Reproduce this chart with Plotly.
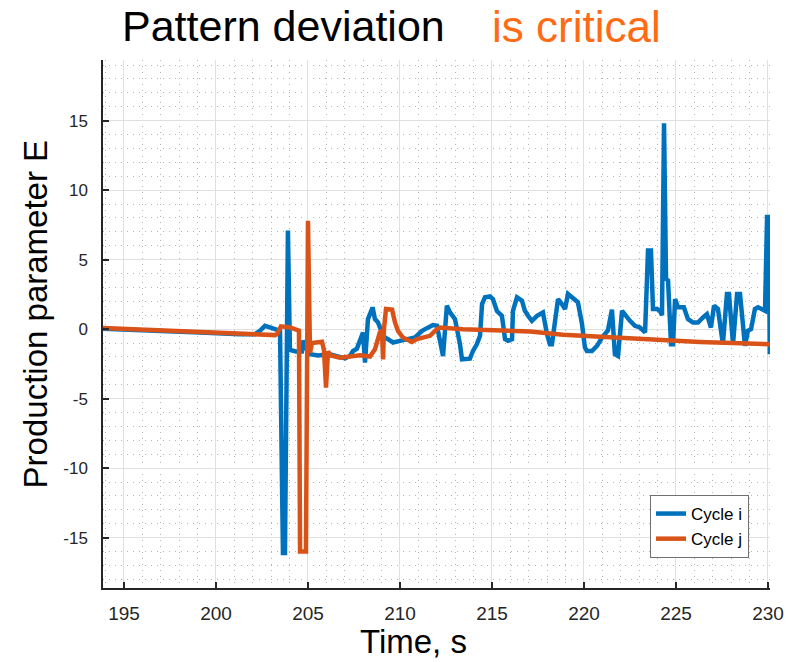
import plotly.graph_objects as go

# ---- data ----
cycle_i_t = [193.86, 196.41, 199.13, 201.30, 202.12, 202.39, 202.66, 202.93, 203.32, 203.48,
             203.64, 203.75, 203.91, 204.02, 204.35, 204.67, 204.76, 204.89, 205.11, 205.54,
             206.20, 206.74, 207.01, 207.28, 207.45, 207.66, 207.83, 207.99, 208.10, 208.21,
             208.26, 208.48, 208.53, 208.64, 208.80, 209.02, 209.18, 209.35, 209.62, 210.00,
             210.43, 210.82, 211.20, 211.52, 211.79, 212.01, 212.17, 212.34, 212.55, 212.72,
             212.99, 213.10, 213.26, 213.37, 213.53, 213.80, 213.97, 214.18, 214.35, 214.46,
             214.62, 214.89, 215.05, 215.27, 215.54, 215.60, 215.71, 215.87, 216.09, 216.14,
             216.36, 216.63, 216.79, 216.96, 217.17, 217.45, 217.77, 217.99, 218.15, 218.26,
             218.42, 218.59, 218.80, 218.97, 219.13, 219.40, 219.67, 219.89, 220.05, 220.16,
             220.43, 220.71, 220.98, 221.30, 221.52, 221.68, 221.85, 222.07, 222.34, 222.50,
             222.77, 223.04, 223.32, 223.48, 223.64, 223.75, 223.97, 224.13, 224.24, 224.35,
             224.46, 224.57, 224.73, 224.84, 224.95, 225.11, 225.43, 225.65, 225.92, 226.20,
             226.47, 226.68, 226.90, 227.07, 227.28, 227.55, 227.77, 227.88, 228.10, 228.32,
             228.48, 228.59, 228.75, 228.91, 229.08, 229.29, 229.46, 229.84, 229.95, 230.05,
             230.10]
cycle_i_v = [0.02, -0.08, -0.24, -0.36, -0.36, -0.12, 0.24, 0.12, 0.0, -0.12,
             -16.1, -16.1, 7.1, -1.5, -1.6, -1.6, -0.8, -1.4, -1.8, -1.9,
             -1.8, -1.97, -2.1, -1.93, -1.57, -1.4, -0.84, -0.24, -2.4, 0.0,
             0.72, 1.45, 1.45, 0.72, 0.5, -0.24, -0.6, -0.72, -0.96, -0.84,
             -0.72, -0.6, -0.12, 0.12, 0.29, 0.24, -0.96, -1.93, 1.69, 1.2,
             0.72, 0.0, -1.08, -2.17, -2.17, -2.12, -1.57, -1.08, -0.48, 1.8,
             2.29, 2.35, 2.17, 1.3, 0.96, 0.48, -0.72, -0.84, -0.72, 1.32,
             2.29, 2.05, 1.32, 0.96, 0.6, 0.96, 1.2, -0.36, -1.08, -1.08,
             0.48, 2.17, 1.8, 1.45, 2.53, 2.2, 1.93, 0.4, -1.3, -1.57,
             -1.57, -1.2, -0.6, -0.1, 1.4, -1.8, -1.93, 1.32, 0.84, 0.6,
             0.24, 0.12, -0.24, 5.66, 5.66, 1.45, 1.45, 1.32, 1.0, 14.8,
             3.61, 3.49, -1.08, -1.08, 2.17, 1.57, 1.57, 0.72, 0.48, 0.48,
             0.84, 1.08, 0.12, 1.69, 1.45, -1.08, 2.53, 2.53, -1.08, 2.53,
             2.53, 0.84, -1.2, -0.12, 0.0, 1.45, 1.57, 1.32, 8.07, 8.07,
             -1.8]

cycle_j_t = [193.86, 197.34, 200.05, 203.21, 203.32, 203.53, 204.02, 204.40, 204.51, 204.57,
             204.89, 205.00, 205.11, 205.22, 205.54, 205.76, 205.87, 205.98, 206.09, 206.20,
             206.74, 207.83, 208.37, 208.64, 208.91, 209.02, 209.08, 209.13, 209.24, 209.57,
             209.73, 209.89, 210.16, 210.65, 210.92, 211.20, 211.63, 212.01, 212.17, 213.42,
             215.27, 217.07, 218.86, 219.78, 223.04, 226.30, 230.11]
cycle_j_v = [0.08, -0.12, -0.24, -0.43, -0.36, 0.2, 0.12, 0.0, -0.1, -16.0,
             -16.0, 7.8, -1.7, -1.0, -0.9, -0.9, -1.5, -4.2, -1.6, -1.88,
             -2.05, -1.88, -1.97, -1.45, -0.22, -0.12, -2.17, 0.0, 1.45, 1.4,
             0.48, -0.12, -0.6, -0.92, -0.72, -0.6, -0.48, 0.0, 0.12, 0.0,
             -0.05, -0.17, -0.41, -0.48, -0.72, -0.92, -1.08]

x_ticks = [195, 200, 205, 210, 215, 220, 225, 230]
x_tick_labels = ["195", "200", "205", "210", "215", "220", "225", "230"]
y_ticks = [-15, -10, -5, 0, 5, 10, 15]
y_tick_labels = ["-15", "-10", "-5", "0", "5", "10", "15"]
x_range = [193.86, 230.11]
y_range = [-18.62, 19.36]

BLUE = "#0072BD"
ORANGE = "#D95319"
AXC = "#262626"
FONT = "Liberation Sans, Arial, sans-serif"

fig = go.Figure()
fig.add_trace(go.Scatter(x=cycle_i_t, y=cycle_i_v, mode="lines", name="Cycle i",
                         line=dict(color=BLUE, width=4.5)))
fig.add_trace(go.Scatter(x=cycle_j_t, y=cycle_j_v, mode="lines", name="Cycle j",
                         line=dict(color=ORANGE, width=4.5)))

axis_common = dict(
    showline=True, linecolor=AXC, linewidth=1.5,
    ticks="inside", ticklen=6, tickwidth=1.5, tickcolor=AXC,
    showgrid=True, gridcolor="#e0e0e0", gridwidth=1,
    zeroline=False, mirror=False, automargin=False,
    minor=dict(dtick=1, showgrid=True, gridcolor="#b4b4b4", griddash="1px,5px",
               gridwidth=1, ticks=""),
)

fig.update_layout(
    width=789, height=662,
    paper_bgcolor="white", plot_bgcolor="white",
    margin=dict(l=103, r=19, t=60, b=74),
    showlegend=True,
    legend=dict(x=0.9685, y=0.0568, xanchor="right", yanchor="bottom",
                bgcolor="white", bordercolor="#707070", borderwidth=1,
                font=dict(family=FONT, size=17, color="black")),
    xaxis=dict(range=x_range, tickvals=x_ticks, ticktext=x_tick_labels,
               ticklabelstandoff=7,
               tickfont=dict(family=FONT, size=19, color=AXC), **axis_common),
    yaxis=dict(range=y_range, tickvals=y_ticks, ticktext=y_tick_labels,
               ticklabelstandoff=10,
               tickfont=dict(family=FONT, size=17, color=AXC), **axis_common),
    annotations=[
        dict(text="Pattern deviation", xref="paper", yref="paper", x=0.0255, y=1.064,
             xanchor="left", yanchor="middle", showarrow=False,
             font=dict(family=FONT, size=43, color="black")),
        dict(text="is critical", xref="paper", yref="paper", x=0.580, y=1.064,
             xanchor="left", yanchor="middle", showarrow=False,
             font=dict(family=FONT, size=44, color="#FF6A13")),
        dict(text="Time, s", xref="paper", yref="paper", x=0.466, y=-0.1004,
             xanchor="center", yanchor="middle", showarrow=False,
             font=dict(family=FONT, size=33, color="black")),
        dict(text="Production parameter E", xref="paper", yref="paper", x=-0.102, y=0.52,
             xanchor="center", yanchor="middle", showarrow=False, textangle=-90,
             font=dict(family=FONT, size=33, color="black")),
    ],
)

fig.write_html("out.html", config={"displayModeBar": False},
               post_script="document.body.style.margin='0px';document.body.style.overflow='hidden';")
